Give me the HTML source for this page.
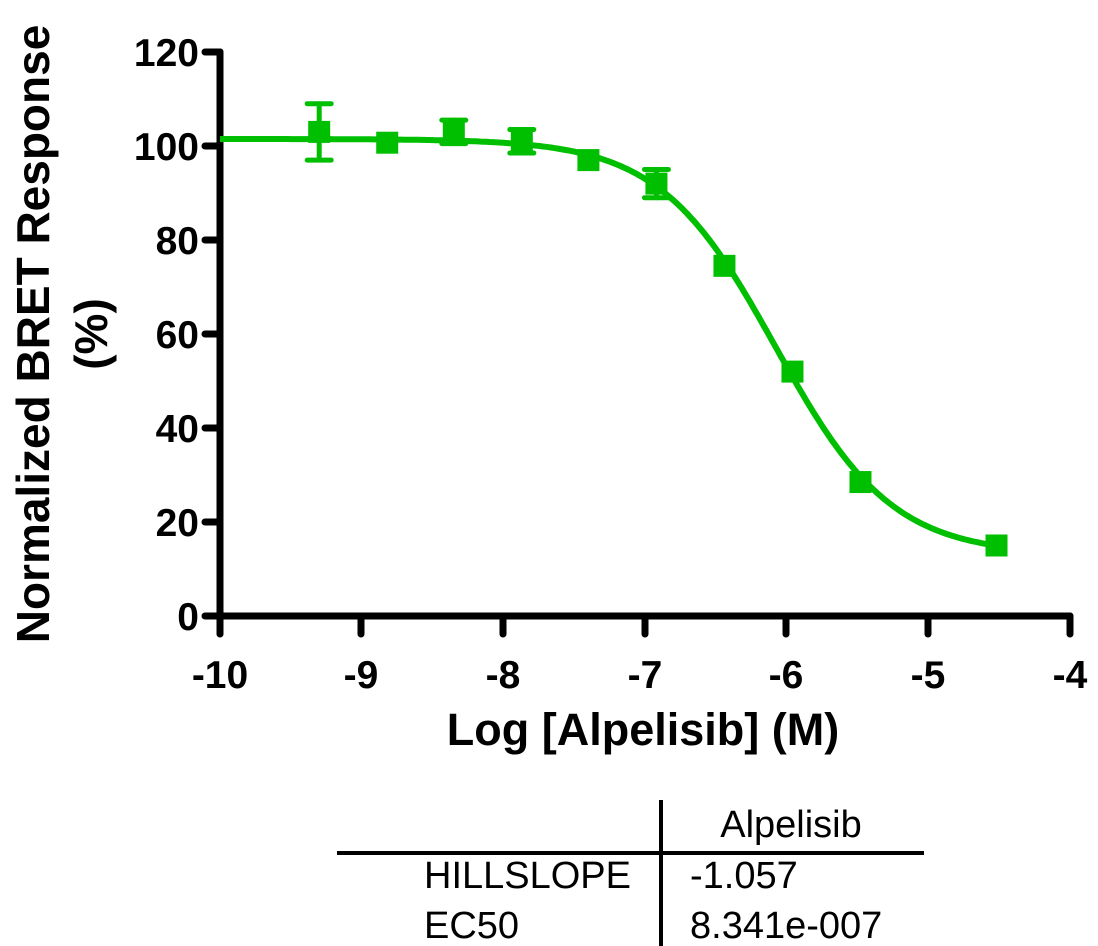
<!DOCTYPE html>
<html><head><meta charset="utf-8"><style>body{margin:0;background:#fff}svg{display:block}</style></head>
<body>
<svg id="s" width="1098" height="946" xmlns="http://www.w3.org/2000/svg" font-family="Liberation Sans, Arial, sans-serif">
<g stroke="#000" stroke-width="7" stroke-linecap="round" fill="none">
<line x1="220" y1="52" x2="220" y2="617"/>
<line x1="220" y1="616" x2="1070" y2="616"/>
<line x1="205" y1="52" x2="220" y2="52"/>
<line x1="205" y1="146" x2="220" y2="146"/>
<line x1="205" y1="240" x2="220" y2="240"/>
<line x1="205" y1="334" x2="220" y2="334"/>
<line x1="205" y1="428" x2="220" y2="428"/>
<line x1="205" y1="522" x2="220" y2="522"/>
<line x1="205" y1="616" x2="220" y2="616"/>
<line x1="220" y1="616" x2="220" y2="634"/>
<line x1="361" y1="616" x2="361" y2="634"/>
<line x1="503" y1="616" x2="503" y2="634"/>
<line x1="645" y1="616" x2="645" y2="634"/>
<line x1="786" y1="616" x2="786" y2="634"/>
<line x1="928" y1="616" x2="928" y2="634"/>
<line x1="1070" y1="616" x2="1070" y2="634"/>
</g>
<g font-size="39" font-weight="bold" text-anchor="end">
<text x="199" y="66">120</text><text x="199" y="160">100</text><text x="199" y="254">80</text>
<text x="199" y="348">60</text><text x="199" y="442">40</text><text x="199" y="536">20</text><text x="199" y="630">0</text>
</g>
<g font-size="39" font-weight="bold" text-anchor="middle">
<text x="220" y="688">-10</text><text x="361" y="688">-9</text><text x="503" y="688">-8</text><text x="645" y="688">-7</text>
<text x="786" y="688">-6</text><text x="928" y="688">-5</text><text x="1070" y="688">-4</text>
</g>
<text x="643" y="745" font-size="45" font-weight="bold" text-anchor="middle">Log [Alpelisib] (M)</text>
<text transform="translate(49,334) rotate(-90)" font-size="46" font-weight="bold" text-anchor="middle">Normalized BRET Response</text>
<text transform="translate(107,334) rotate(-90)" font-size="46" font-weight="bold" text-anchor="middle">(%)</text>
<path id="curve" fill="none" stroke="#00bf00" stroke-width="6"/>
<g id="pts" fill="#00bf00" stroke="#00bf00" stroke-width="5" stroke-linecap="round"></g>
<g stroke="#000" stroke-width="4">
<line x1="661" y1="800" x2="661" y2="946"/>
<line x1="337" y1="853" x2="924" y2="853"/>
</g>
<g font-size="38">
<text x="791" y="837" text-anchor="middle">Alpelisib</text>
<text x="424" y="888">HILLSLOPE</text><text x="690" y="888">-1.057</text>
<text x="424" y="938">EC50</text><text x="690" y="938">8.341e-007</text>
</g>
</svg>
<script>
var X=function(v){return 220+(v+10)*141.7},Y=function(v){return 616-v*4.7};
var top_=101.5,bot=13,le=-6.079,h=1.057,d="";
for(var x=-10;x<=-4.5;x+=0.02){var y=bot+(top_-bot)/(1+Math.pow(10,(x-le)*h));d+=(d?"L":"M")+X(x).toFixed(1)+" "+Y(y).toFixed(1);}
document.getElementById("curve").setAttribute("d",d);
var P=[[-9.3,103,6],[-8.82,100.7,0],[-8.35,103,2.5],[-7.87,101,2.5],[-7.4,97,0],[-6.92,92,3],[-6.44,74.5,0],[-5.96,52,0],[-5.48,28.5,0],[-4.52,15,0]];
var g=document.getElementById("pts"),s="";
P.forEach(function(p){var cx=X(p[0]),cy=Y(p[1]);
s+='<rect x="'+(cx-11)+'" y="'+(cy-11)+'" width="22" height="22" stroke="none"/>';
if(p[2]){var a=Y(p[1]+p[2]),b=Y(p[1]-p[2]);
s+='<line x1="'+cx+'" y1="'+a+'" x2="'+cx+'" y2="'+b+'"/><line x1="'+(cx-12)+'" y1="'+a+'" x2="'+(cx+12)+'" y2="'+a+'"/><line x1="'+(cx-12)+'" y1="'+b+'" x2="'+(cx+12)+'" y2="'+b+'"/>';}
});
g.innerHTML=s;
</script>
</body></html>
